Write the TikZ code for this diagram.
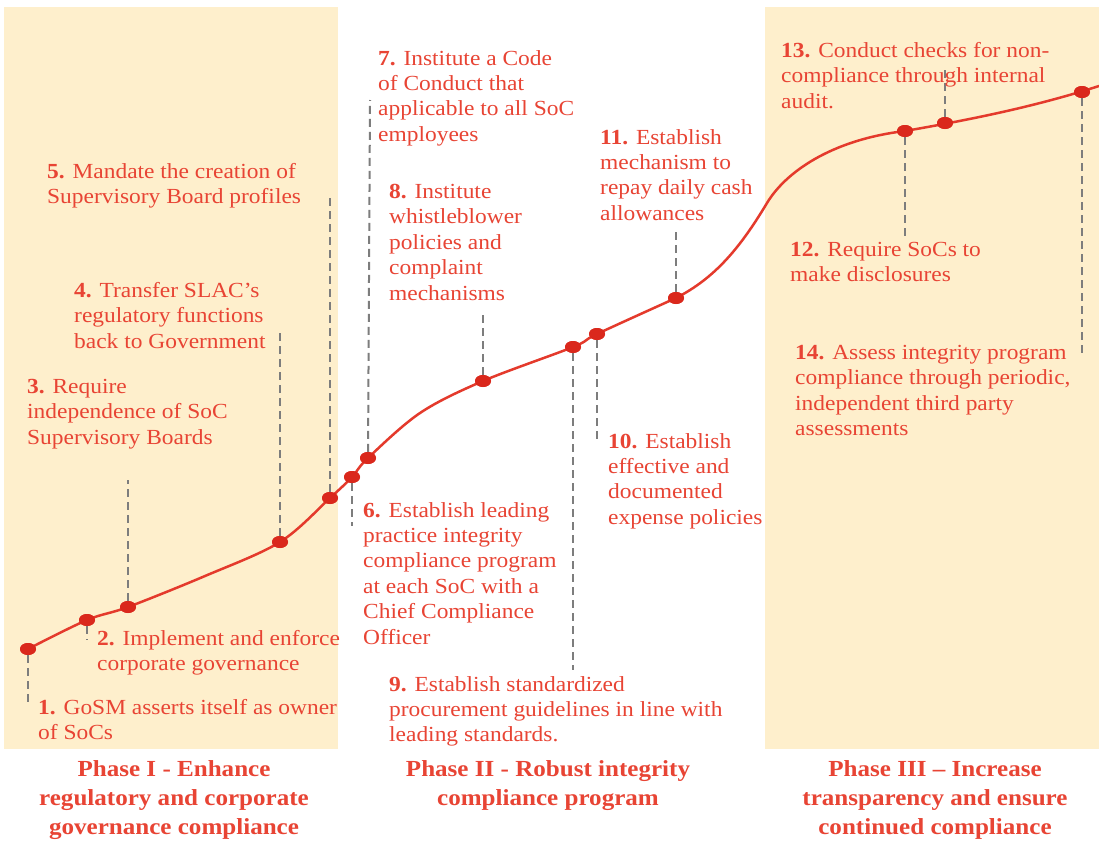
\documentclass[tikz,border=0pt]{standalone}
\usepackage{fontspec}
\setmainfont[FakeStretch=1.09]{Liberation Serif}
\usetikzlibrary{shapes.geometric}
\definecolor{bgyellow}{RGB}{254,239,204}
\definecolor{txtred}{RGB}{232,68,52}
\definecolor{curvered}{RGB}{228,58,44}
\definecolor{dotred}{RGB}{218,40,28}
\definecolor{dashgray}{RGB}{125,125,125}
\tikzset{
  phasebg/.style={fill=bgyellow, draw=none},
  lbl/.style={anchor=north west, align=left, inner sep=0pt, text=txtred, font=\fontsize{21.5}{25.4}\selectfont},
  ttl/.style={anchor=north, align=center, inner sep=0pt, text=txtred, font=\bfseries\fontsize{23}{29}\selectfont},
  dot/.style={ellipse, fill=dotred, draw=none, minimum width=16pt, minimum height=12pt, inner sep=0pt},
  leader/.style={draw=dashgray, line width=2pt, dash pattern=on 8pt off 5pt},
  curve/.style={draw=curvered, line width=2.5pt, line cap=round}
}
\begin{document}
\begin{tikzpicture}[x=1pt,y=-1pt]
\useasboundingbox (0,0) rectangle (1099,846);
\fill[white] (0,0) rectangle (1099,846);
% phase backgrounds
\path[phasebg] (4,7) rectangle (338,749);
\path[phasebg] (765,7) rectangle (1099,749);
% curve
\draw[curve] plot[smooth, tension=0.55] coordinates {(28,649) (87,620) (128,607) (205,576) (280,542) (330,498) (352,477) (368,458) (420,413) (483,381) (573,347) (597,334) (676,298)};
\draw[curve] (676,298) .. controls (715,278) and (740,248) .. (767,203)
  .. controls (785,173) and (830,140) .. (905,131)
  .. controls (980,118) and (1040,105) .. (1099,86);
% dots
\node[dot] (d1) at (28,649) {};
\node[dot] (d2) at (87,620) {};
\node[dot] (d3) at (128,607) {};
\node[dot] (d4) at (280,542) {};
\node[dot] (d5) at (330,498) {};
\node[dot] (d6) at (352,477) {};
\node[dot] (d7) at (368,458) {};
\node[dot] (d8) at (483,381) {};
\node[dot] (d9) at (573,347) {};
\node[dot] (d10) at (597,334) {};
\node[dot] (d11) at (676,298) {};
\node[dot] (d12) at (905,131) {};
\node[dot] (d13) at (945,123) {};
\node[dot] (d14) at (1082,92) {};
% leader end points
\coordinate (e1) at (28,706);
\coordinate (e2) at (87,640);
\coordinate (e3) at (128,480);
\coordinate (e4) at (280,330);
\coordinate (e5) at (330,195);
\coordinate (e6) at (352,526);
\coordinate (e7) at (370,100);
\coordinate (e8) at (483,310);
\coordinate (e9) at (573,670);
\coordinate (e10) at (597,440);
\coordinate (e11) at (676,232);
\coordinate (e12) at (905,236);
\coordinate (e13) at (945,68);
\coordinate (e14) at (1082,357);
\foreach \i in {1,...,14} {
  \draw[leader] (d\i) -- (e\i);
}
% dots on top of leaders
\foreach \i in {1,...,14} {
  \fill[dotred] (d\i.center) ellipse (8pt and 6pt);
}
% labels
\node[lbl] (t1) at (38,699) {\textbf{1.} GoSM asserts itself as owner\\of SoCs};
\node[lbl] (t2) at (97,630) {\textbf{2.} Implement and enforce\\corporate governance};
\node[lbl] (t3) at (27,379) {\textbf{3.} Require\\independence of SoC\\Supervisory Boards};
\node[lbl] (t4) at (74,282) {\textbf{4.} Transfer SLAC’s\\regulatory functions\\back to Government};
\node[lbl] (t5) at (47,163) {\textbf{5.} Mandate the creation of\\Supervisory Board profiles};
\node[lbl] (t6) at (363,502) {\textbf{6.} Establish leading\\practice integrity\\compliance program\\at each SoC with a\\Chief Compliance\\Officer};
\node[lbl] (t7) at (378,50) {\textbf{7.} Institute a Code\\of Conduct that\\applicable to all SoC\\employees};
\node[lbl] (t8) at (389,184) {\textbf{8.} Institute\\whistleblower\\policies and\\complaint\\mechanisms};
\node[lbl] (t9) at (389,676) {\textbf{9.} Establish standardized\\procurement guidelines in line with\\leading standards.};
\node[lbl] (t10) at (608,433) {\textbf{10.} Establish\\effective and\\documented\\expense policies};
\node[lbl] (t11) at (600,129) {\textbf{11.} Establish\\mechanism to\\repay daily cash\\allowances};
\node[lbl] (t12) at (790,242) {\textbf{12.} Require SoCs to\\make disclosures};
\node[lbl] (t13) at (781,42) {\textbf{13.} Conduct checks for non-\\compliance through internal\\audit.};
\node[lbl] (t14) at (795,345) {\textbf{14.} Assess integrity program\\compliance through periodic,\\independent third party\\assessments};
% phase titles
\node[ttl] (p1) at (174,760) {Phase I - Enhance\\regulatory and corporate\\governance compliance};
\node[ttl] (p2) at (548,760) {Phase II - Robust integrity\\compliance program};
\node[ttl] (p3) at (935,760) {Phase III -- Increase\\transparency and ensure\\continued compliance};
\end{tikzpicture}
\end{document}
